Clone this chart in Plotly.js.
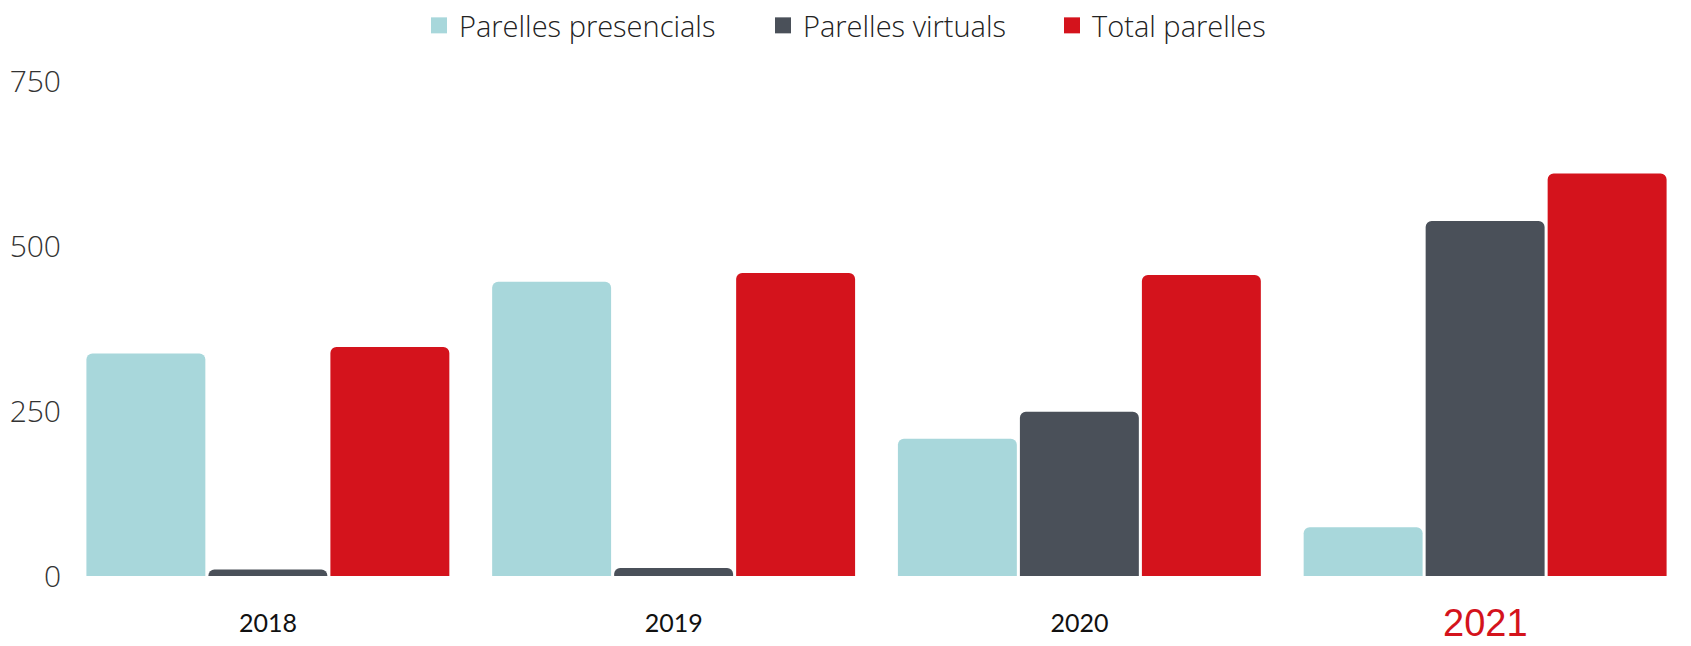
<!DOCTYPE html>
<html>
<head>
<meta charset="utf-8">
<script src="https://cdn.plot.ly/plotly-3.0.1.min.js"></script>
<style>
    html, body { margin: 0; padding: 0; background: #fff; }
    #chart { width: 1691px; height: 646px; }
</style>
</head>
<body>
<div id="chart"></div>
<script>
var years = ['2018', '2019', '2020', '2021'];
var presencials = [337, 446, 208, 74];
var virtuals = [10, 12, 249, 538];
var totals = [347, 459, 456, 610];
var yTicks = [0, 250, 500, 750];

var seriesNames = ['Parelles presencials', 'Parelles virtuals', 'Total parelles'];
var seriesColors = ['#a8d7db', '#4a5059', '#d4131c'];
var seriesValues = [presencials, virtuals, totals];
var legendIds = ['legend', 'legend2', 'legend3'];
var W = 1691;
var legendX = [419, 763, 1052];

var graphData = [];
for (var i = 0; i < seriesNames.length; i++) {
    graphData.push({
        x: years,
        y: seriesValues[i],
        type: 'bar',
        name: seriesNames[i],
        showlegend: false,
        marker: { color: seriesColors[i], line: { width: 0 } }
    });
}
// legend entries with bigger square swatches, one legend each so the spacing can be set
for (var i = 0; i < seriesNames.length; i++) {
    graphData.push({
        x: [years[0]],
        y: [null],
        type: 'scatter',
        mode: 'markers',
        name: seriesNames[i],
        legend: legendIds[i],
        marker: { symbol: 'square', size: 16, color: seriesColors[i] }
    });
}

var lastIdx = years.length - 1;
var legendFont = { family: 'Open Sans', size: 29, weight: 300, color: '#222' };
var layout = {
    width: W,
    height: 646,
    margin: { l: 65, r: 3, t: 81, b: 70 },
    paper_bgcolor: '#fff',
    plot_bgcolor: '#fff',
    barmode: 'group',
    bargap: 0.098,
    bargroupgap: 0.025,
    barcornerradius: 6,
    font: { family: 'Open Sans', color: '#222' },
    showlegend: true,
    xaxis: {
        type: 'category',
        range: [-0.5, 3.5],
        tickvals: years,
        ticktext: years.map((y, i) => i == lastIdx ? '' : y),
        showgrid: false,
        zeroline: false,
        showline: false,
        ticks: '',
        ticklabelstandoff: 30,
        tickfont: { family: 'Lato', size: 25, color: '#111' }
    },
    yaxis: {
        range: [0, 750],
        tickvals: yTicks,
        showgrid: false,
        zeroline: false,
        showline: false,
        ticks: '',
        ticklabelstandoff: 3,
        tickfont: { family: 'Open Sans', size: 30, weight: 300, color: '#333' }
    },
    // the last year is highlighted: bigger and red
    annotations: [{
        x: lastIdx,
        y: 0,
        xref: 'x',
        yref: 'paper',
        text: years[lastIdx],
        showarrow: false,
        yanchor: 'top',
        yshift: -26,
        height: 38,
        valign: 'middle',
        font: { family: 'Liberation Sans', size: 38, color: '#d4131c' }
    }]
};

for (var i = 0; i < legendIds.length; i++) {
    layout[legendIds[i]] = {
        orientation: 'h',
        xref: 'container',
        yref: 'container',
        x: legendX[i] / W,
        xanchor: 'left',
        y: 1,
        yanchor: 'top',
        font: legendFont,
        itemclick: false,
        itemdoubleclick: false
    };
}

Plotly.newPlot('chart', graphData, layout, { displayModeBar: false, staticPlot: true });
</script>
</body>
</html>
